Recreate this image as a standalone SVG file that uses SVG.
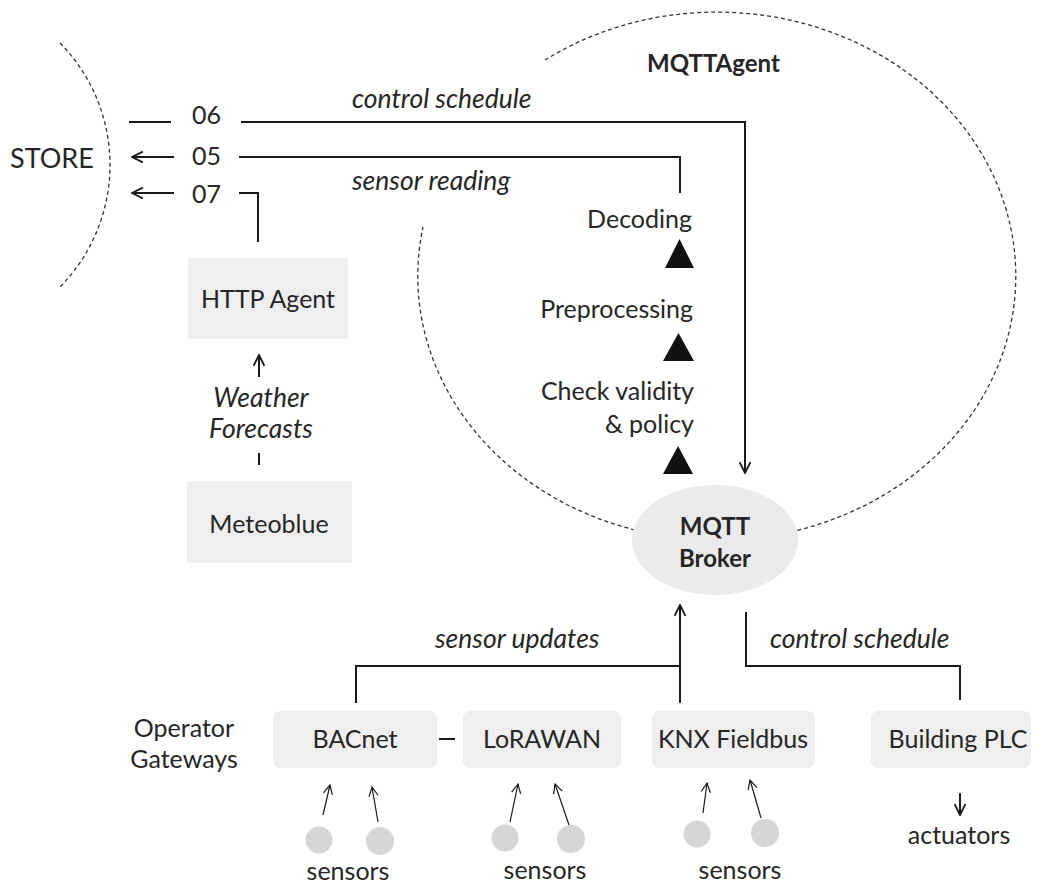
<svg xmlns="http://www.w3.org/2000/svg" width="1043" height="885" viewBox="0 0 1043 885">
<defs>
<style>
text{font-family:Lato,"Liberation Sans",sans-serif;fill:#262626;font-size:25px}
.it{font-style:italic;font-size:26.5px}
.b{font-weight:bold;font-size:24px}
.m{text-anchor:middle}
.e{text-anchor:end}
.ln{fill:none;stroke:#1a1a1a;stroke-width:2}
.th{fill:none;stroke:#1a1a1a;stroke-width:1.2}
.dash{fill:none;stroke:#333;stroke-width:1.3;stroke-dasharray:4 3}
.box{fill:#efefef}
.sen{fill:#d6d6d6}
</style>
<marker id="ar" viewBox="0 0 12 12" refX="11" refY="6" markerWidth="13" markerHeight="13" markerUnits="userSpaceOnUse" orient="auto">
<path d="M1,1 L11,6 L1,11" fill="none" stroke="#1a1a1a" stroke-width="1.7"/>
</marker>
<marker id="ars" viewBox="0 0 12 12" refX="11" refY="6" markerWidth="11" markerHeight="11" markerUnits="userSpaceOnUse" orient="auto">
<path d="M1,1 L11,6 L1,11" fill="none" stroke="#1a1a1a" stroke-width="1.3"/>
</marker>
</defs>
<rect width="1043" height="885" fill="#fff"/>

<g id="store">
<path class="dash" d="M60,43 A173.8,173.8 0 0 1 60,287"/>
<text x="10" y="168" style="font-size:27px">STORE</text>
</g>

<g id="mqttagent">
<path class="dash" d="M545,60 A299,264 0 1 1 423,227"/>
<text class="b" x="647" y="72">MQTTAgent</text>
</g>

<g id="topics">
<text x="192" y="124">06</text>
<text x="192" y="165">05</text>
<text x="192" y="203">07</text>
</g>

<g id="pipeline">
<text class="e" x="692" y="228">Decoding</text>
<polygon points="665,268 694,268 679.5,239" fill="#111"/>
<text class="e" x="693" y="318">Preprocessing</text>
<polygon points="663,361 694,361 678.5,333" fill="#111"/>
<text class="e" x="694" y="400">Check validity</text>
<text class="e" x="694" y="433">&amp; policy</text>
<polygon points="663,474 693,474 678,446" fill="#111"/>
</g>

<g id="broker">
<ellipse cx="715" cy="540" rx="83" ry="55" fill="#ebebeb"/>
<text class="b m" x="715" y="535">MQTT</text>
<text class="b m" x="715" y="567">Broker</text>
</g>

<g id="http-agent">
<rect class="box" x="188" y="258" width="160" height="81"/>
<text class="m" x="268" y="308">HTTP Agent</text>
</g>

<g id="meteoblue">
<rect class="box" x="187" y="481" width="165" height="82"/>
<text class="m" x="269" y="533">Meteoblue</text>
</g>

<g id="operator-label">
<text class="m" x="184" y="737">Operator</text>
<text class="m" x="184" y="768">Gateways</text>
</g>

<g id="bacnet">
<rect class="box" x="273" y="711" width="164" height="57" rx="7"/>
<text class="m" x="355" y="748">BACnet</text>
</g>
<g id="lorawan">
<rect class="box" x="463" y="711" width="158" height="57" rx="7"/>
<text class="m" x="542" y="748">LoRAWAN</text>
</g>
<g id="knx">
<rect class="box" x="652" y="711" width="163" height="57" rx="7"/>
<text class="m" x="733" y="748">KNX Fieldbus</text>
</g>
<g id="plc">
<rect class="box" x="871" y="711" width="160" height="57" rx="7"/>
<text class="m" x="958" y="748">Building PLC</text>
</g>

<g id="sensors-bacnet">
<circle class="sen" cx="319" cy="840" r="13.5"/>
<circle class="sen" cx="380" cy="841" r="14"/>
<text class="m" x="348" y="880">sensors</text>
</g>
<g id="sensors-lorawan">
<circle class="sen" cx="505" cy="838" r="13.5"/>
<circle class="sen" cx="571" cy="839" r="14"/>
<text class="m" x="545" y="879">sensors</text>
</g>
<g id="sensors-knx">
<circle class="sen" cx="697" cy="834" r="13.5"/>
<circle class="sen" cx="765" cy="833" r="14"/>
<text class="m" x="740" y="879">sensors</text>
</g>
<g id="actuators">
<text class="m" x="959" y="844">actuators</text>
</g>

<g id="labels">
<text class="it" x="352" y="108">control schedule</text>
<text class="it" x="352" y="190">sensor reading</text>
<text class="it m" x="261" y="407">Weather</text>
<text class="it m" x="261" y="438">Forecasts</text>
<text class="it" x="435" y="648">sensor updates</text>
<text class="it" x="770" y="648">control schedule</text>
</g>

<g id="connectors">
<line class="ln" x1="129" y1="122" x2="171" y2="122"/>
<path class="ln" d="M241,122 H745 V473" marker-end="url(#ar)"/>
<line class="ln" x1="174" y1="157" x2="132" y2="157" marker-end="url(#ar)"/>
<path class="ln" d="M239,157 H680 V193"/>
<line class="ln" x1="174" y1="193" x2="132" y2="193" marker-end="url(#ar)"/>
<path class="ln" d="M239,193 H258 V242"/>
<line class="ln" x1="259" y1="377" x2="259" y2="355" marker-end="url(#ar)"/>
<line class="ln" x1="259" y1="453" x2="259" y2="465"/>
<path class="ln" d="M356,703 V666 H680"/>
<path class="ln" d="M680,703 V605" marker-end="url(#ar)"/>
<path class="ln" d="M746,612 V666 H960 V700"/>
<line class="ln" x1="439" y1="739" x2="455" y2="739"/>
<line class="ln" x1="960" y1="793" x2="960" y2="815" marker-end="url(#ar)"/>
<line class="th" x1="323" y1="815" x2="330" y2="785" marker-end="url(#ars)"/>
<line class="th" x1="378" y1="822" x2="372" y2="787" marker-end="url(#ars)"/>
<line class="th" x1="510" y1="822" x2="518" y2="784" marker-end="url(#ars)"/>
<line class="th" x1="569" y1="825" x2="555" y2="784" marker-end="url(#ars)"/>
<line class="th" x1="703" y1="813" x2="707" y2="783" marker-end="url(#ars)"/>
<line class="th" x1="761" y1="818" x2="750" y2="780" marker-end="url(#ars)"/>
</g>
</svg>
